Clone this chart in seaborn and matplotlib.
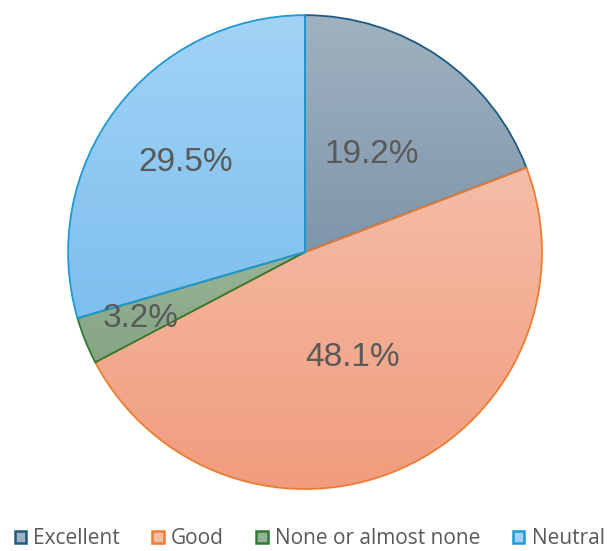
import numpy as np
import matplotlib
matplotlib.use("Agg")
import matplotlib.pyplot as plt
from matplotlib.colors import LinearSegmentedColormap
from matplotlib.patches import Patch
import seaborn as sns

sns.set_theme(style="white")
plt.rcParams['font.family'] = ['Open Sans', 'DejaVu Sans']

categories = ["Excellent", "Good", "None or almost none", "Neutral"]
shares = [19.2, 48.1, 3.2, 29.5]

# styles
edge_colors = ["#1f5a80", "#ed7d31", "#2f7a35", "#1f9ad6"]
light_colors = ["#a0b2c1", "#f5bda7", "#98b398", "#a2d3f6"]
dark_colors = ["#7e96aa", "#f19c7e", "#84a584", "#7dbfee"]
label_dist = [0.50, 0.49, 0.75, 0.63]
text_color = "#595959"

fig = plt.figure(figsize=(6.07, 5.51), dpi=100)
ax = fig.add_axes([0.112, 0.1125, 0.781, 0.860])

wedges, _ = ax.pie(shares, startangle=90, counterclock=False,
                   colors=light_colors, radius=1.0,
                   wedgeprops=dict(linewidth=1.3))

for w, ec, lc, dc, val, d in zip(wedges, edge_colors, light_colors, dark_colors, shares, label_dist):
    w.set_edgecolor(ec)
    w.set_facecolor("none")
    w.set_zorder(3)
    ext = w.get_path().get_extents()
    cmap = LinearSegmentedColormap.from_list("g", [dc, lc])
    grad = np.linspace(0, 1, 256).reshape(-1, 1)
    im = ax.imshow(grad, cmap=cmap, origin="lower", aspect="auto",
                   extent=[ext.x0, ext.x1, ext.y0, ext.y1], zorder=2)
    im.set_clip_path(w)
    mid = np.deg2rad((w.theta1 + w.theta2) / 2)
    ax.text(d * np.cos(mid), d * np.sin(mid), f"{val:.1f}%",
            ha="center", va="center", fontsize=24, color=text_color, zorder=4,
            family=['Liberation Sans', 'DejaVu Sans'])

ax.set_xlim(-1.0, 1.0)
ax.set_ylim(-1.0, 1.0)
ax.set_aspect("equal")
ax.axis("off")

handles = [Patch(facecolor=lc, edgecolor=ec, linewidth=1.8) for lc, ec in zip(light_colors, edge_colors)]
fig.legend(handles, categories, loc="center", bbox_to_anchor=(0.51, 0.022),
           ncol=4, frameon=False, fontsize=15, labelcolor=text_color,
           handlelength=0.55, handleheight=0.55, handletextpad=0.35, columnspacing=1.55,
           borderpad=0.1)

fig.savefig("out.png", dpi=100)
